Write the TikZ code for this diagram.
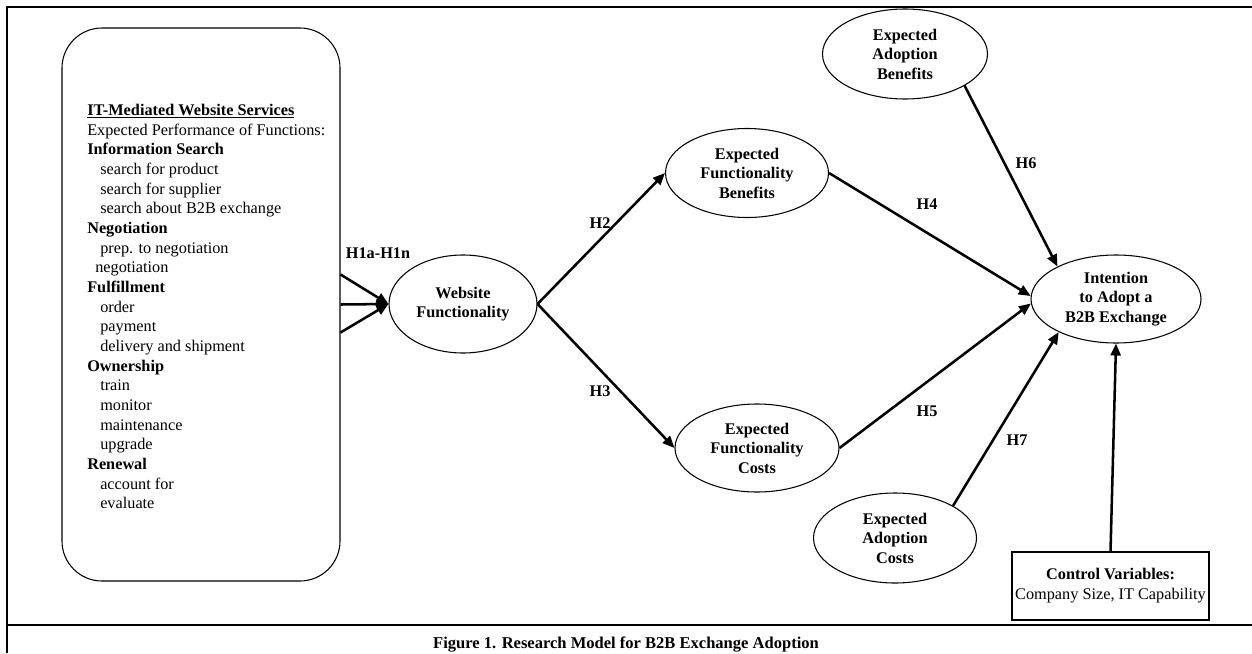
\documentclass[tikz,border=0pt]{standalone}
\usepackage{fontspec}
\setmainfont{Liberation Serif}
\usetikzlibrary{shapes.geometric,arrows.meta,calc}
\begin{document}
\begin{tikzpicture}[x=0.75pt,y=-0.75pt,
  every node/.style={font=\fontsize{12.2}{14.6}\selectfont},
  ell/.style={ellipse,draw,line width=0.8pt,inner sep=0pt,align=center,font=\fontsize{12.2}{14.6}\selectfont\bfseries},
  arr/.style={line width=1.9pt,-{Triangle[length=9pt,width=7.5pt]}},
  lbl/.style={font=\fontsize{12.2}{14.6}\selectfont\bfseries,inner sep=0pt},
  frameline/.style={line width=1.7pt}]
\useasboundingbox (0,0) rectangle (1252,653);

% frame
\draw[frameline] (7,653) -- (7,7) -- (1252,7);
\draw[frameline] (7,625) -- (1252,625);
\node[font=\fontsize{12.4}{14.6}\selectfont\bfseries, anchor=base, inner sep=0pt] (cap) at (626,648) {Figure 1. Research Model for B2B Exchange Adoption};

% services box
\node[draw, line width=0.8pt, rounded corners=30pt, minimum width=208.5pt, minimum height=414.75pt, inner sep=0pt] (box) at (201,304.5) {};
\node[anchor=north west, inner sep=0pt, align=left, font=\fontsize{12.2}{14.75}\selectfont] (svc) at (87,104) {%
\textbf{\underline{IT-Mediated Website Services}}\\
Expected Performance of Functions:\\
\textbf{Information Search}\\
\hspace*{9.75pt}search for product\\
\hspace*{9.75pt}search for supplier\\
\hspace*{9.75pt}search about B2B exchange\\
\textbf{Negotiation}\\
\hspace*{9.75pt}prep. to negotiation\\
\hspace*{6pt}negotiation\\
\textbf{Fulfillment}\\
\hspace*{9.75pt}order\\
\hspace*{9.75pt}payment\\
\hspace*{9.75pt}delivery and shipment\\
\textbf{Ownership}\\
\hspace*{9.75pt}train\\
\hspace*{9.75pt}monitor\\
\hspace*{9.75pt}maintenance\\
\hspace*{9.75pt}upgrade\\
\textbf{Renewal}\\
\hspace*{9.75pt}account for\\
\hspace*{9.75pt}evaluate};

% ellipses
\node[ell, minimum width=111pt, minimum height=73.5pt] (wf) at (463,304) {Website\\Functionality};
\node[ell, minimum width=122.25pt, minimum height=66.75pt] (efb) at (747,173) {Expected\\Functionality\\Benefits};
\node[ell, minimum width=123pt, minimum height=66pt] (efc) at (757,448) {Expected\\Functionality\\Costs};
\node[ell, minimum width=123.75pt, minimum height=67.5pt] (eab) at (905,54) {Expected\\Adoption\\Benefits};
\node[ell, minimum width=122.25pt, minimum height=67.5pt] (eac) at (895,538) {Expected\\Adoption\\Costs};
\node[ell, minimum width=127.5pt, minimum height=66pt] (intent) at (1116,299) {Intention\\to Adopt a\\B2B Exchange};

% control box
\node[draw, line width=0.8pt, minimum width=147.75pt, minimum height=51pt, inner sep=0pt, align=center, font=\fontsize{12.2}{15}\selectfont] (ctrl) at (1110.5,586) {\textbf{Control Variables:}\\Company Size, IT Capability};

% arrows
\draw[arr] ($(box.east)+(0,-30)$) -- (wf.west);
\draw[arr] (box.east) -- (wf.west);
\draw[arr] ($(box.east)+(0,28)$) -- (wf.west);
\draw[arr] (wf.east) -- (efb.west);
\draw[arr] (wf.east) -- (efc.west);
\draw[arr] (efb.east) -- (intent.178);
\draw[arr] (efc.east) -- (intent.183);
\draw[arr] (eab.-28.5) -- (intent.151.5);
\draw[arr] (eac.29.2) -- (intent.210.7);
\draw[arr] (ctrl.north) -- (intent.south);

% labels
\node[lbl] (l1) at (378,253) {H1a-H1n};
\node[lbl] (l2) at (600,223) {H2};
\node[lbl] (l3) at (600,391) {H3};
\node[lbl] (l4) at (927,204) {H4};
\node[lbl] (l5) at (927,411) {H5};
\node[lbl] (l6) at (1026,163) {H6};
\node[lbl] (l7) at (1017,440) {H7};
\end{tikzpicture}
\end{document}
